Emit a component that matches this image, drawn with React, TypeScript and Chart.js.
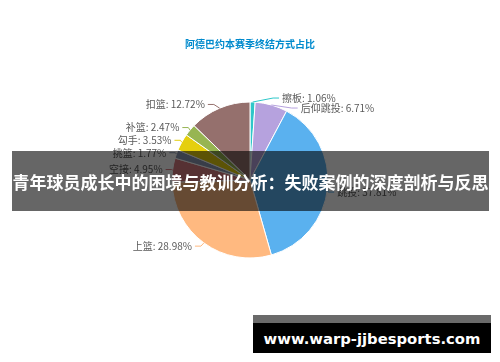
import { useEffect, useRef } from "react";
import { Chart, registerables } from "chart.js";

Chart.register(...registerables);

const TITLE = "阿德巴约本赛季终结方式占比";
const categories = ["擦板", "后仰跳投", "跳投", "上篮", "空接", "挑篮", "勾手", "补篮", "扣篮"];
const shares = [1.06, 6.71, 37.81, 28.98, 4.95, 1.77, 3.53, 2.47, 12.72];
const colors = ["#2ec7c9", "#b6a2de", "#5ab1ef", "#ffb980", "#d87a80", "#8d98b3", "#e5cf0d", "#97b552", "#95706d"];
const BANNER = "青年球员成长中的困境与教训分析：失败案例的深度剖析与反思";
const WATERMARK = "www.warp-jjbesports.com";

const LEN = 4;
const LEN2 = 6;
const LABEL_H = 10;
const LABEL_FONT = '10px "Noto Sans CJK SC", sans-serif';

type Item = {
  i: number; x1: number; y1: number; x: number; y: number; dir: number; height: number;
};

function adjustSide(list: Item[], cx: number, cy: number, r: number, dir: number, viewH: number) {
  list.sort((a, b) => a.y - b.y);
  const shiftUp = (end: number, delta: number) => {
    for (let j = end; j >= 0; j--) {
      list[j].y -= delta;
      if (j > 0 && list[j].y > list[j - 1].y + list[j - 1].height) break;
    }
  };
  const shiftDown = (start: number, end: number, delta: number) => {
    for (let j = start; j < end; j++) {
      list[j].y += delta;
      if (j > start && j + 1 < end && list[j + 1].y > list[j].y + list[j].height) {
        shiftUp(j, delta / 2);
        return;
      }
    }
    shiftUp(end - 1, delta / 2);
  };
  let lastY = 0;
  const n = list.length;
  for (let i = 0; i < n; i++) {
    const d = list[i].y - lastY;
    if (d < 0) shiftDown(i, n, -d);
    lastY = list[i].y + list[i].height;
  }
  if (viewH - lastY < 0 && n) shiftUp(n - 1, lastY - viewH);
  const up: Item[] = [];
  const down: Item[] = [];
  list.forEach((it) => (it.y >= cy ? down : up).push(it));
  const changeX = (arr: Item[], isDown: boolean) => {
    let last = isDown ? Number.MAX_VALUE : 0;
    for (const it of arr) {
      const dY = Math.abs(it.y - cy);
      const R = r + LEN + LEN2;
      let dX = dY < r + LEN ? Math.sqrt(R * R - dY * dY) : Math.abs(it.x - cx);
      if (isDown && dX >= last) dX = last - 10;
      if (!isDown && dX <= last) dX = last + 10;
      it.x = cx + dX * dir;
      last = dX;
    }
  };
  changeX(up, false);
  changeX(down, true);
}

const pieLabels = {
  id: "pieLabels",
  afterDatasetsDraw(chart: any) {
    const ctx = chart.ctx as CanvasRenderingContext2D;
    const meta = chart.getDatasetMeta(0);
    const items: Item[] = [];
    let cx = 0, cy = 0, r = 0;
    meta.data.forEach((arc: any, i: number) => {
      const p = arc.getProps(["x", "y", "startAngle", "endAngle", "outerRadius"], true);
      cx = p.x; cy = p.y; r = p.outerRadius;
      const mid = (p.startAngle + p.endAngle) / 2;
      const dx = Math.cos(mid), dy = Math.sin(mid);
      const dir = dx < 0 ? -1 : 1;
      const x2 = cx + (r + LEN) * dx;
      const y2 = cy + (r + LEN) * dy;
      items.push({ i, x1: cx + r * dx, y1: cy + r * dy, x: x2 + dir * LEN2 + dir * 5, y: y2, dir, height: LABEL_H });
    });
    adjustSide(items.filter((it) => it.dir > 0), cx, cy, r, 1, chart.height);
    adjustSide(items.filter((it) => it.dir < 0), cx, cy, r, -1, chart.height);

    ctx.save();
    ctx.font = LABEL_FONT;
    ctx.textBaseline = "middle";
    for (const it of items) {
      const p3 = it.x - it.dir * 3;
      const p2 = p3 - it.dir * LEN2;
      ctx.strokeStyle = colors[it.i];
      ctx.lineWidth = 1;
      ctx.beginPath();
      ctx.moveTo(it.x1, it.y1);
      ctx.lineTo(p2, it.y);
      ctx.lineTo(p3, it.y);
      ctx.stroke();
      ctx.fillStyle = "#5a5a5a";
      ctx.textAlign = it.dir < 0 ? "right" : "left";
      ctx.fillText(`${categories[it.i]}: ${shares[it.i].toFixed(2)}%`, it.x, it.y);
    }
    ctx.font = 'bold 10px "Noto Sans CJK SC", sans-serif';
    ctx.fillStyle = "#008acd";
    ctx.textAlign = "center";
    ctx.fillText(TITLE, chart.width / 2, 44);
    ctx.restore();
  },
};

export default function App() {
  const ref = useRef<HTMLCanvasElement | null>(null);
  useEffect(() => {
    document.body.style.margin = "0";
    const chart = new Chart(ref.current!, {
      type: "pie",
      data: {
        labels: categories,
        datasets: [
          {
            data: shares,
            backgroundColor: colors,
            borderColor: "#ffffff",
            borderWidth: 1,
          },
        ],
      },
      options: {
        animation: false,
        responsive: true,
        maintainAspectRatio: false,
        radius: 78,
        layout: { padding: { top: 0, bottom: 2, left: 0, right: 0 } },
        plugins: {
          legend: { display: false },
          tooltip: { enabled: false },
          title: { display: false },
        },
      } as any,
      plugins: [pieLabels],
    });
    return () => chart.destroy();
  }, []);

  return (
    <div style={{ position: "fixed", left: 0, top: 0, width: 500, height: 362, background: "#fff", overflow: "hidden" }}>
      <canvas ref={ref} style={{ position: "absolute", left: 0, top: 0 }} />
      <div
        style={{
          position: "absolute", left: 12, top: 151, width: 477, height: 60,
          background: "rgba(0,0,0,0.6)", color: "#fff",
          font: 'bold 17px "Noto Sans CJK SC", sans-serif',
          display: "flex", alignItems: "center", justifyContent: "center",
          whiteSpace: "nowrap", overflow: "visible",
        }}
      >
        {BANNER}
      </div>
      <div style={{ position: "absolute", left: 253, top: 315, width: 238, height: 8, background: "#6a6a6a" }} />
      <div
        style={{
          position: "absolute", left: 253, top: 323, width: 238, height: 30,
          background: "#000", color: "#fff",
          font: 'bold 14.8px "DejaVu Sans", sans-serif',
          display: "flex", alignItems: "center", justifyContent: "center",
          whiteSpace: "nowrap",
        }}
      >
        {WATERMARK}
      </div>
    </div>
  );
}
